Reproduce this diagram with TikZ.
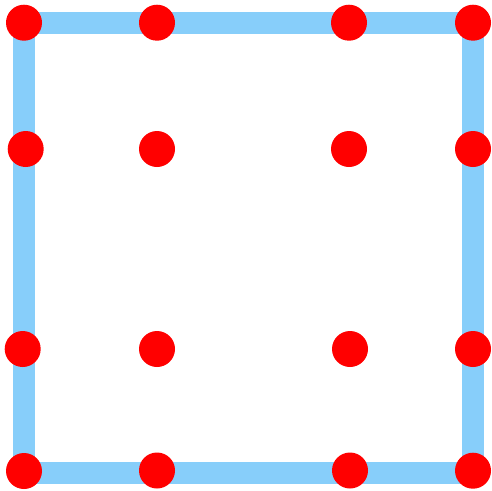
\documentclass[tikz,border=0pt]{standalone}
\definecolor{edgeblue}{HTML}{87CEFA}
\definecolor{dotred}{HTML}{FF0000}
\tikzset{
  dot/.style={circle, fill=dotred, draw=none, inner sep=0pt, minimum size=36pt},
  frame/.style={draw=edgeblue, line width=22pt, line join=miter}
}
\begin{document}
\begin{tikzpicture}[x=1pt, y=-1pt]
\useasboundingbox (0,0) rectangle (492,490);
% frame corners
\coordinate (c1) at (23.5,22.7);
\coordinate (c2) at (473,22.7);
\coordinate (c3) at (473,473.2);
\coordinate (c4) at (23.5,473.2);
\draw[frame] (c1) -- (c2) -- (c3) -- (c4) -- cycle;
% dots
\node[dot] (d11) at (24,22.7) {};
\node[dot] (d12) at (157,22.7) {};
\node[dot] (d13) at (349,22.7) {};
\node[dot] (d14) at (473,22.7) {};
\node[dot] (d21) at (25.7,149) {};
\node[dot] (d22) at (157,149) {};
\node[dot] (d23) at (349,149) {};
\node[dot] (d24) at (473,149) {};
\node[dot] (d31) at (22.7,349) {};
\node[dot] (d32) at (157,349) {};
\node[dot] (d33) at (350,349) {};
\node[dot] (d34) at (473,349) {};
\node[dot] (d41) at (24,471) {};
\node[dot] (d42) at (157,470.5) {};
\node[dot] (d43) at (350,470.5) {};
\node[dot] (d44) at (473,470.7) {};
\end{tikzpicture}
\end{document}
